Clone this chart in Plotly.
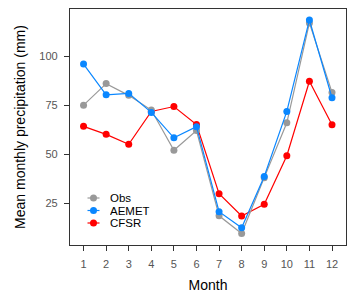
import plotly.graph_objects as go

months = list(range(1, 13))
obs = [75, 86, 80, 72.5, 52, 62, 18.5, 9.5, 38, 66, 117, 81.5]
aemet = [96, 80.3, 81, 71.3, 58.3, 64, 20.6, 12.4, 38.6, 71.8, 118.5, 78.8]
cfsr = [64.2, 60.1, 55, 71.8, 74.3, 65.1, 29.8, 18.4, 24.4, 49.2, 87.2, 65]
x_ticks = [str(m) for m in months]
y_ticks = [25, 50, 75, 100]

W, H = 352, 296
L, R, T, B = 70, 6, 9, 51
pw, ph = W - L - R, H - T - B

fig = go.Figure()
series = [
    ("CFSR", cfsr, "#ff0000"),
    ("Obs", obs, "#999999"),
    ("AEMET", aemet, "#0a87ff"),
]
for name, vals, col in series:
    fig.add_trace(go.Scatter(
        x=months, y=vals, name=name, mode="lines+markers",
        line=dict(color=col, width=1.2),
        marker=dict(color=col, size=7),
        showlegend=False,
    ))

# manual legend (compact, like ggplot)
legend_items = [("Obs", "#999999"), ("AEMET", "#0a87ff"), ("CFSR", "#ff0000")]
row_y = [198.0, 210.5, 223.0]
def px_x(p):
    return (p - L) / pw
def px_y(p):
    return (H - B - p) / ph
for (name, col), py in zip(legend_items, row_y):
    fig.add_shape(type="line", xref="paper", yref="paper",
                  x0=px_x(87.5), x1=px_x(99.5), y0=px_y(py), y1=px_y(py),
                  line=dict(color=col, width=1.2))
    fig.add_shape(type="circle", xref="paper", yref="paper",
                  x0=px_x(93.5 - 3.5), x1=px_x(93.5 + 3.5),
                  y0=px_y(py + 3.5), y1=px_y(py - 3.5),
                  fillcolor=col, line=dict(color=col, width=0))
    fig.add_annotation(x=px_x(109), y=px_y(py), xref="paper", yref="paper",
                       text=name, showarrow=False, xanchor="left", yanchor="middle",
                       borderpad=0, height=12,
                       font=dict(size=11.5, color="black"))

axis_common = dict(
    showline=True, linecolor="#333333", linewidth=1.3, mirror=True,
    ticks="outside", ticklen=5, tickwidth=1.3, tickcolor="#333333",
    showgrid=False, zeroline=False,
    tickfont=dict(size=11, color="#555555"),
)
fig.update_xaxes(range=[0.4, 12.62], tickvals=months, ticktext=x_ticks,
                 ticklabelstandoff=4,
                 title=dict(text="Month", font=dict(size=14, color="black"), standoff=10),
                 **axis_common)
fig.update_yaxes(range=[3.6, 124.1], tickvals=y_ticks,
                 ticklabelstandoff=4,
                 title=dict(text="Mean monthly precipitation (mm)", font=dict(size=14, color="black"), standoff=10),
                 **axis_common)
fig.update_layout(
    width=W, height=H,
    margin=dict(l=L, r=R, t=T, b=B),
    paper_bgcolor="white", plot_bgcolor="white",
    font=dict(family="Liberation Sans, Arial, sans-serif"),
    showlegend=False,
)
fig.write_html("out.html", config={"displayModeBar": False},
               post_script="document.body.style.margin='0';document.body.style.padding='0';")
